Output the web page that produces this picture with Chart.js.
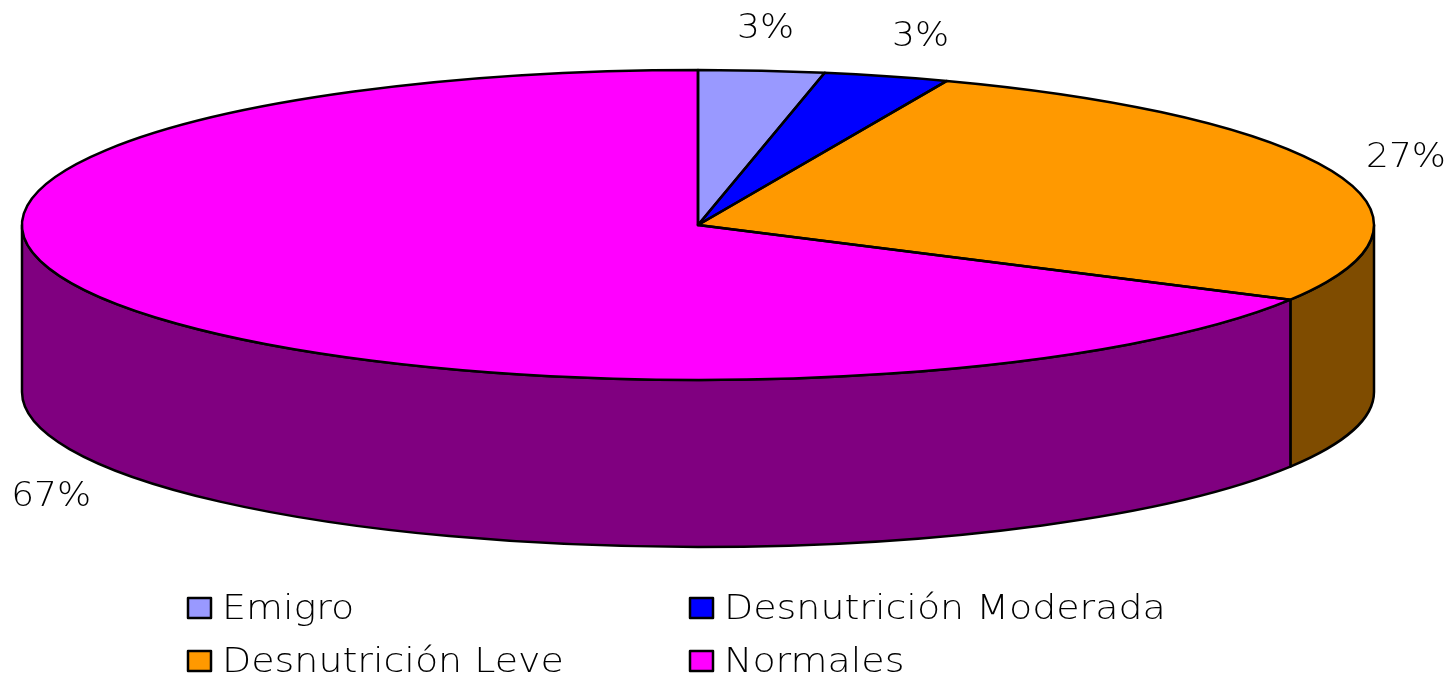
<!DOCTYPE html>
<html>
<head>
<meta charset="utf-8">
<title>Estado nutricional</title>
<script src="https://cdn.jsdelivr.net/npm/chart.js@4/dist/chart.umd.min.js"></script>
<style>
  html, body { margin: 0; padding: 0; background: #fff; overflow: hidden; }
  canvas { display: block; }
</style>
</head>
<body>
<canvas id="myChart" width="1449" height="674"></canvas>
<script>
const categories = ['Emigro', 'Desnutrición Moderada', 'Desnutrición Leve', 'Normales'];
const percentages = [3, 3, 27, 67];
const topColors = ['#9999ff', '#0000ff', '#ff9900', '#ff00ff'];
const sideColors = ['#4c4c7f', '#00007f', '#7f4c00', '#800080'];

// ellipse the flat pie gets squeezed into, and how deep the wall is
const cx = 698, cy = 225, rx = 676, ry = 155, depth = 167;

// label position relative to the rim point in the middle of the slice
const labelOffsets = [[4, -41], [34, -39], [72, -14], [-65, 194]];
const legendSlots = [[188, 608], [690, 608], [188, 661], [690, 661]];

const FONT = '200 33px "DejaVu Sans"';

function stretchedText(ctx, text, x, y, align, stretch) {
  ctx.save();
  ctx.font = FONT;
  ctx.fillStyle = '#000';
  ctx.textAlign = align;
  ctx.textBaseline = 'middle';
  ctx.translate(x, y);
  ctx.scale(stretch, 1);
  ctx.fillText(text, 0, 0);
  ctx.restore();
}

const pie3d = {
  id: 'pie3d',
  beforeDatasetsDraw(chart) {
    const ctx = chart.ctx;
    const arcs = chart.getDatasetMeta(0).data;

    // walls, only the part of each slice facing the viewer
    arcs.forEach((arc, i) => {
      const a = Math.max(arc.startAngle, 0);
      const b = Math.min(arc.endAngle, Math.PI);
      if (b <= a) return;
      ctx.beginPath();
      ctx.ellipse(cx, cy, rx, ry, 0, a, b);
      ctx.ellipse(cx, cy + depth, rx, ry, 0, b, a, true);
      ctx.closePath();
      ctx.fillStyle = sideColors[i];
      ctx.fill();
      ctx.lineWidth = 2.5;
      ctx.strokeStyle = '#000';
      ctx.lineJoin = 'round';
      ctx.stroke();
    });

    // squeeze the library's circle into the ellipse
    const first = arcs[0];
    ctx.save();
    ctx.translate(cx, cy);
    ctx.scale(rx / first.outerRadius, ry / first.outerRadius);
    ctx.translate(-first.x, -first.y);
  },
  afterDatasetsDraw(chart) {
    const ctx = chart.ctx;
    ctx.restore();
    const arcs = chart.getDatasetMeta(0).data;

    // outlines after the restore so the line keeps one width
    arcs.forEach((arc) => {
      ctx.beginPath();
      ctx.moveTo(cx, cy);
      ctx.ellipse(cx, cy, rx, ry, 0, arc.startAngle, arc.endAngle);
      ctx.closePath();
      ctx.lineWidth = 2.5;
      ctx.strokeStyle = '#000';
      ctx.lineJoin = 'round';
      ctx.stroke();
    });

    arcs.forEach((arc, i) => {
      const mid = (arc.startAngle + arc.endAngle) / 2;
      const x = cx + rx * Math.cos(mid) + labelOffsets[i][0];
      const y = cy + ry * Math.sin(mid) + labelOffsets[i][1];
      stretchedText(ctx, percentages[i] + '%', x, y, 'center', 1.09);
    });

    categories.forEach((name, i) => {
      const [x, y] = legendSlots[i];
      ctx.fillStyle = topColors[i];
      ctx.strokeStyle = '#000';
      ctx.lineWidth = 2.5;
      ctx.fillRect(x, y - 10, 23, 20);
      ctx.strokeRect(x, y - 10, 23, 20);
      stretchedText(ctx, name, x + 34, y + 2, 'left', 1.15);
    });
  }
};

new Chart(document.getElementById('myChart').getContext('2d'), {
  type: 'pie',
  data: {
    labels: categories,
    datasets: [{
      data: percentages,
      backgroundColor: topColors,
      borderWidth: 0
    }]
  },
  options: {
    responsive: false,
    animation: false,
    plugins: { legend: { display: false }, tooltip: { enabled: false } }
  },
  plugins: [pie3d]
});
</script>
</body>
</html>
